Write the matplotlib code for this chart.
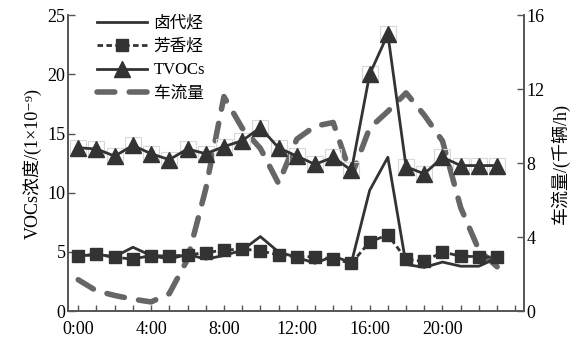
import numpy as np
import matplotlib
matplotlib.use("Agg")
import matplotlib.pyplot as plt

plt.rcParams['font.family'] = ['Liberation Serif', 'DejaVu Serif', 'Noto Sans CJK SC']

# 小时
hours = np.arange(24)
# 卤代烃 (1e-9)
halo = [4.65, 4.8, 4.6, 5.4, 4.7, 4.4, 4.8, 4.4, 4.7, 5.15, 6.3, 5.0,
        4.55, 4.05, 4.65, 4.1, 10.2, 13.0, 3.95, 3.7, 4.15, 3.8, 3.8, 4.5]
# 芳香烃
arom = [4.65, 4.8, 4.55, 4.4, 4.7, 4.65, 4.75, 4.95, 5.15, 5.25, 5.1, 4.75,
        4.6, 4.6, 4.4, 4.05, 5.85, 6.45, 4.4, 4.2, 5.0, 4.65, 4.6, 4.55]
# TVOCs
tvoc = [13.8, 13.7, 13.1, 14.0, 13.3, 12.8, 13.7, 13.3, 13.9, 14.4, 15.5, 13.8,
        13.1, 12.4, 13.0, 11.9, 20.0, 23.4, 12.2, 11.6, 13.0, 12.3, 12.3, 12.3]
# 车流量 (千辆/h)
traffic = [1.7, 1.1, 0.85, 0.65, 0.5, 0.95, 2.8, 6.6, 11.6, 9.9, 8.8, 6.9,
           9.3, 10.0, 10.2, 7.3, 9.9, 10.8, 11.8, 10.6, 9.2, 5.6, 3.3, 2.4]
xticklabels = ['0:00', '4:00', '8:00', '12:00', '16:00', '20:00']

dark = '#333333'
grey = '#666666'

fig = plt.figure(figsize=(5.83, 3.45), dpi=100)
ax = fig.add_axes([0.117, 0.098, 0.781, 0.858])
ax2 = ax.twinx()
ax.set_zorder(ax2.get_zorder() + 1)
ax.patch.set_visible(False)

# 车流量
l4, = ax2.plot(hours, traffic, color=grey, lw=4, dashes=(3.2, 2.6),
               dash_capstyle='round', label='车流量')

l1, = ax.plot(hours, halo, color=dark, lw=2, label='卤代烃')
l2, = ax.plot(hours, arom, color=dark, lw=2, ls=(0, (2.0, 1.2)), marker='s',
              ms=8, mfc=dark, mec=dark, label='芳香烃')
ax.plot(hours, tvoc, ls='none', marker='s', ms=12, mfc='none', mec='#d8d8d8', mew=0.8)
l3, = ax.plot(hours, tvoc, color=dark, lw=2, marker='^', ms=11,
              mfc=dark, mec=dark, label='TVOCs')

ax.set_xlim(-0.55, 24.45)
ax.set_ylim(0, 25)
ax2.set_ylim(0, 16)
ax.set_xticks(np.arange(0, 25))
ax.set_xticklabels([xticklabels[i // 4] if i % 4 == 0 and i < 24 else '' for i in range(25)])
ax.set_yticks(np.arange(0, 26, 5))
ax2.set_yticks(np.arange(0, 17, 4))

for a in (ax, ax2):
    for s in a.spines.values():
        s.set_color('#555555')
        s.set_linewidth(1.2)
    a.spines['top'].set_visible(False)
    a.tick_params(direction='in', length=5, width=1, color='#555555',
                  labelsize=13, pad=2)
ax.tick_params(axis='x', length=4, pad=7)

ax.set_ylabel('VOCs浓度/(1×10⁻⁹)', fontsize=13, labelpad=4)
ax2.set_ylabel('车流量/(千辆/h)', fontsize=13, labelpad=4)

ax.legend([l1, l2, l3, l4], ['卤代烃', '芳香烃', 'TVOCs', '车流量'],
          loc='upper left', bbox_to_anchor=(0.03, 1.05), frameon=False,
          fontsize=12, handlelength=3.0, handletextpad=0.4, labelspacing=0.45)

fig.savefig('out.png', dpi=100)
